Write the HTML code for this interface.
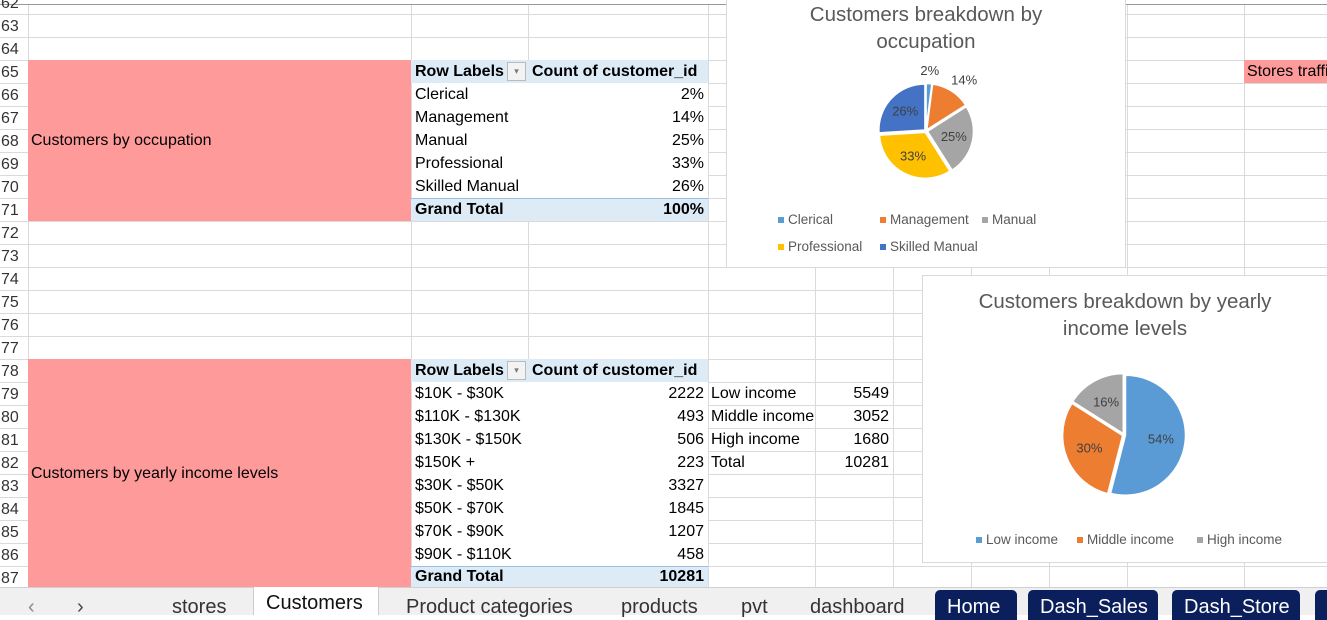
<!DOCTYPE html>
<html><head><meta charset="utf-8">
<style>
*{box-sizing:border-box;margin:0;padding:0}
body{width:1327px;height:615px;overflow:hidden;background:#fff;position:relative;font-family:"Liberation Sans",sans-serif;font-size:16px;color:#000}
.a{position:absolute}
.t{position:absolute;white-space:nowrap;line-height:23px;height:23px}
.r{text-align:right}
.tab{position:absolute;top:596px;font-size:20px;color:#333;white-space:nowrap}
.ntab{position:absolute;top:590px;height:30px;background:#0b1f5c;border-radius:5px 5px 0 0;color:#fff;font-size:20px;padding:6px 12px 0;white-space:nowrap}
</style></head><body>
<svg id="grid" class="a" style="left:0;top:0" width="1327" height="615"></svg>

<div class="a" style="left:28px;top:60px;width:383px;height:161px;background:#ff9a9a"></div>
<div class="t" style="left:31px;top:129px">Customers by occupation</div>
<div class="a" style="left:28px;top:359px;width:383px;height:228px;background:#ff9a9a"></div>
<div class="t" style="left:31px;top:462px">Customers by yearly income levels</div>
<div class="a" style="left:1244px;top:60px;width:83px;height:23px;background:#ff9a9a"></div>
<div class="t" style="left:1247px;top:60px">Stores traffic</div>

<div class="a" style="left:412px;top:83px;width:296px;height:115px;background:#fff"></div>
<div class="a" style="left:412px;top:382px;width:296px;height:184px;background:#fff"></div>
<div class="a" style="left:411px;top:60px;width:297px;height:23px;background:#ddebf7"></div>
<div class="a" style="left:411px;top:198px;width:297px;height:23px;background:#ddebf7;border-top:1px solid #9bc2e6"></div>
<div class="a" style="left:411px;top:359px;width:297px;height:23px;background:#ddebf7"></div>
<div class="a" style="left:411px;top:566px;width:297px;height:21px;background:#ddebf7;border-top:1px solid #9bc2e6"></div>
<div id="cells"></div>

<div class="a" style="left:726px;top:-2px;width:400px;height:270px;background:#fff;border:1px solid #d9d9d9"></div>
<svg id="pie1" class="a" style="left:726px;top:0" width="400" height="268"></svg>

<div class="a" style="left:922px;top:275px;width:410px;height:288px;background:#fff;border:1px solid #d9d9d9"></div>
<svg id="pie2" class="a" style="left:922px;top:275px" width="405" height="288"></svg>

<div class="a" style="left:0;top:587px;width:1327px;height:28px;background:#f0f0f0;border-top:1px solid #d0d0d0"></div>
<div class="tab" style="left:28px;color:#888">&#x2039;</div>
<div class="tab" style="left:77px;color:#444">&#x203A;</div>
<div class="tab" style="left:172px">stores</div>
<div class="a" style="left:253px;top:587px;width:126px;height:28px;background:#fff;border-left:1px solid #ccc;border-right:1px solid #ccc"></div>
<div class="tab" style="left:266px;top:592px;color:#111">Customers</div>
<div class="tab" style="left:406px">Product categories</div>
<div class="tab" style="left:621px">products</div>
<div class="tab" style="left:741px">pvt</div>
<div class="tab" style="left:810px">dashboard</div>
<div class="ntab" style="left:935px;width:82px">Home</div>
<div class="ntab" style="left:1028px;width:130px">Dash_Sales</div>
<div class="ntab" style="left:1172px;width:128px">Dash_Store</div>
<div class="ntab" style="left:1315px;width:20px"></div>

<script>
const occCategories=["Clerical","Management","Manual","Professional","Skilled Manual"];
const occValues=[2,14,25,33,26];
const occLabels=["2%","14%","25%","33%","26%"];
const occColors=["#5b9bd5","#ed7d31","#a5a5a5","#ffc000","#4472c4"];
const incCategories=["Low income","Middle income","High income"];
const incValues=[54,30,16];
const incLabels=["54%","30%","16%"];
const incColors=["#5b9bd5","#ed7d31","#a5a5a5"];
const incRanges=["$10K - $30K","$110K - $130K","$130K - $150K","$150K +","$30K - $50K","$50K - $70K","$70K - $90K","$90K - $110K"];
const incCounts=[2222,493,506,223,3327,1845,1207,458];
const groupNames=["Low income","Middle income","High income","Total"];
const groupCounts=[5549,3052,1680,10281];

const NS="http://www.w3.org/2000/svg";
function mk(p,tag,at){const e=document.createElementNS(NS,tag);for(const k in at)e.setAttribute(k,at[k]);p.appendChild(e);return e;}
const rowTop=r=>60+(r-65)*23;

const g=document.getElementById('grid');
const cols=[28,411,528,708,815,893,971,1049,1127,1244];
for(let r=62;r<=88;r++){const y=rowTop(r)+0.5;mk(g,'line',{x1:0,x2:1327,y1:y,y2:y,stroke:'#dadada'});}
cols.forEach(x=>mk(g,'line',{x1:x+0.5,x2:x+0.5,y1:4,y2:587,stroke:'#dadada'}));
mk(g,'line',{x1:0,x2:1327,y1:4.5,y2:4.5,stroke:'#999'});
for(let r=62;r<=87;r++){
  const t=mk(g,'text',{x:1,y:rowTop(r)+17,'font-size':16,fill:'#333','font-family':'Liberation Sans, sans-serif'});
  t.textContent=r;
  
  
}

const cells=document.getElementById('cells');
function cell(txt,x,y,w,right,bold,name){
  const d=document.createElement('div');d.className='t'+(right?' r':'');
  d.style.left=x+'px';d.style.top=y+'px';if(w){d.style.width=w+'px';d.style.overflow='hidden';}
  if(bold)d.style.fontWeight='bold';d.textContent=txt;
  
  
  cells.appendChild(d);
}
function pivotHeader(r,p){
  cell('Row Labels',415,rowTop(r),0,false,true,p+'-row-labels-header');
  cell('Count of customer_id',532,rowTop(r),0,false,true,p+'-count-header');
  const b=document.createElement('div');b.className='a';
  b.style.cssText='left:507px;top:'+(rowTop(r)+2)+'px;width:19px;height:19px;border:1px solid #bbb;background:#f3f3f3;font-size:9px;color:#777;text-align:center;line-height:17px';
  b.textContent='\u25BE';
  
  
  cells.appendChild(b);
}
pivotHeader(65,'pivot1');
occCategories.forEach((c,i)=>{cell(c,415,rowTop(66+i),0,false,false,'pivot1-label-'+i);cell(occLabels[i],528,rowTop(66+i),176,true,false,'pivot1-value-'+i);});
cell('Grand Total',415,rowTop(71),0,false,true,'pivot1-grand-total-label');
cell('100%',528,rowTop(71),176,true,true,'pivot1-grand-total-value');
pivotHeader(78,'pivot2');
incRanges.forEach((c,i)=>{cell(c,415,rowTop(79+i),0,false,false,'pivot2-label-'+i);cell(String(incCounts[i]),528,rowTop(79+i),176,true,false,'pivot2-value-'+i);});
cell('Grand Total',415,rowTop(87)-1,0,false,true,'pivot2-grand-total-label');
cell(String(incCounts.reduce((a,b)=>a+b,0)),528,rowTop(87)-1,176,true,true,'pivot2-grand-total-value');
groupNames.forEach((c,i)=>{cell(c,711,rowTop(79+i),104,false,false,'group-label-'+i);cell(String(groupCounts[i]),815,rowTop(79+i),74,true,false,'group-value-'+i);});

function pie(svg,cx,cy,R,vals,cols,labels,names,explode,lblR,outsideIdx,prefix){
  const tot=vals.reduce((a,b)=>a+b,0);let a0=-Math.PI/2;
  vals.forEach((v,i)=>{
    const a1=a0+v/tot*2*Math.PI,am=(a0+a1)/2;
    const ox=explode*Math.cos(am),oy=explode*Math.sin(am);
    const x0=cx+ox+R*Math.cos(a0),y0=cy+oy+R*Math.sin(a0),x1=cx+ox+R*Math.cos(a1),y1=cy+oy+R*Math.sin(a1);
    const p=mk(svg,'path',{d:`M${cx+ox},${cy+oy}L${x0},${y0}A${R},${R} 0 ${a1-a0>Math.PI?1:0} 1 ${x1},${y1}Z`,fill:cols[i],stroke:'#fff','stroke-width':1.5});
    
    
    const out=outsideIdx.includes(i);const lr=out?R+14:R*lblR;
    const t=mk(svg,'text',{x:cx+lr*Math.cos(am)+(out&&i===1?6:0),y:cy+lr*Math.sin(am)+4,'text-anchor':'middle','font-size':13,fill:'#404040','font-family':'Liberation Sans, sans-serif'});
    t.textContent=labels[i];
    
    
    a0=a1;
  });
}
function title(svg,lines,cx,y0,dy,prefix){
  lines.forEach((l,i)=>{const t=mk(svg,'text',{x:cx,y:y0+i*dy,'text-anchor':'middle','font-size':20.5,fill:'#595959','font-family':'Liberation Sans, sans-serif'});t.textContent=l;
    
    });
}
function legend(svg,names,cols,pos,prefix){
  names.forEach((n,i)=>{const [x,y]=pos[i];
    const r=mk(svg,'rect',{x:x,y:y-7,width:6,height:6,fill:cols[i]});
    
    
    const t=mk(svg,'text',{x:x+10,y:y,'font-size':13.5,fill:'#595959','font-family':'Liberation Sans, sans-serif'});t.textContent=n;
    
    });
}
const p1=document.getElementById('pie1');
title(p1,["Customers breakdown by","occupation"],200,21,27,'occupation');
pie(p1,200,131,46,occValues,occColors,occLabels,occCategories,1.5,0.62,[0,1],'occupation');
legend(p1,occCategories,occColors,[[52,224],[154,224],[256,224],[52,251],[154,251]],'occupation');
const p2=document.getElementById('pie2');
title(p2,["Customers breakdown by yearly","income levels"],203,33,27,'income');
pie(p2,202,160,60,incValues,incColors,incLabels,incCategories,1.5,0.62,[],'income');
legend(p2,incCategories,incColors,[[54,269],[155,269],[275,269]],'income');
</script>
</body></html>
